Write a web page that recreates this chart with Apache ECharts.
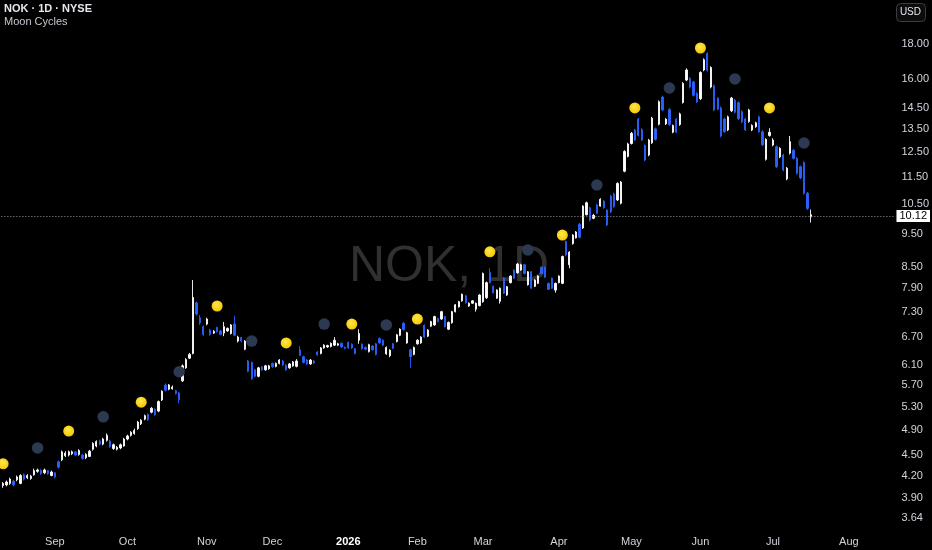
<!DOCTYPE html>
<html><head><meta charset="utf-8">
<script src="https://cdn.jsdelivr.net/npm/echarts@6/dist/echarts.min.js"></script>
<style>html,body{margin:0;padding:0;background:#000;}#c{width:932px;height:550px;}</style>
</head><body><div id="c"></div>
<script>
// ---- data ----
const startDate = '2025-08-11';
const holidays = ['2025-09-01','2025-11-27','2025-12-25','2026-01-01','2026-01-19','2026-02-16','2026-04-03','2026-05-25','2026-06-19','2026-07-03'];
const slotCount = 259;
const monthNames = ['Jan','Feb','Mar','Apr','May','Jun','Jul','Aug','Sep','Oct','Nov','Dec'];

const opens = [4.06,4.07,4.09,4.12,4.14,4.09,4.21,4.17,4.16,4.21,4.26,4.27,4.24,4.27,4.20,4.24,4.40,4.43,4.49,4.50,
4.52,4.55,4.51,4.50,4.46,4.48,4.59,4.64,4.72,4.67,4.73,4.72,4.60,4.59,4.61,4.64,4.75,4.81,4.84,4.92,
5.00,5.08,5.16,5.20,5.25,5.22,5.42,5.70,5.62,5.63,5.59,5.55,5.78,6.04,6.24,6.34,7.52,7.15,6.94,7.00,
6.86,6.79,6.92,6.84,6.79,6.84,6.78,7.00,6.61,6.69,6.43,6.18,6.15,6.00,5.87,6.06,6.00,6.02,6.13,6.07,
6.13,6.18,6.09,6.04,6.08,6.07,6.42,6.27,6.20,6.12,6.18,6.37,6.34,6.46,6.48,6.49,6.52,6.52,6.56,6.47,
6.58,6.54,6.44,6.63,6.54,6.47,6.38,6.50,6.55,6.67,6.63,6.33,6.29,6.55,6.60,6.74,7.02,6.57,6.42,6.32,
6.55,6.57,6.97,6.72,6.95,6.98,7.13,7.12,7.18,6.88,7.03,7.30,7.42,7.57,7.70,7.44,7.51,7.36,7.45,7.55,
7.65,8.33,7.95,7.64,7.56,8.17,7.72,8.05,8.40,8.32,8.40,8.55,7.99,8.35,7.95,8.03,8.48,8.48,8.03,8.17,
7.85,8.05,8.03,9.25,8.55,9.18,9.36,9.80,9.68,10.12,10.36,10.00,10.46,10.42,10.60,10.28,10.78,10.85,10.64,10.52,
11.72,12.32,12.87,13.47,13.97,13.49,12.78,12.38,12.90,13.52,13.73,15.05,13.75,14.43,13.37,13.97,13.72,14.78,15.94,16.03,
15.84,15.23,14.97,16.49,17.43,15.57,15.64,14.99,14.51,13.98,13.47,14.37,14.90,14.77,14.33,13.98,13.86,13.47,13.62,14.08,
13.39,12.20,13.22,12.80,12.73,12.30,12.38,11.42,12.46,12.58,12.24,11.90,12.07,10.88,10.05];
const closes = [4.09,4.11,4.15,4.07,4.18,4.20,4.15,4.20,4.19,4.27,4.28,4.23,4.28,4.23,4.25,4.18,4.32,4.55,4.53,4.55,
4.55,4.50,4.57,4.45,4.51,4.56,4.68,4.71,4.67,4.75,4.81,4.63,4.66,4.62,4.66,4.75,4.80,4.86,4.89,5.03,
5.06,5.14,5.07,5.27,5.16,5.39,5.58,5.60,5.70,5.66,5.54,5.42,6.08,6.21,6.32,7.66,7.24,7.03,6.76,7.12,
6.76,6.83,6.82,6.76,6.94,6.90,6.98,6.74,6.70,6.61,6.61,5.97,5.82,5.87,6.04,6.00,6.08,6.08,6.06,6.13,
6.20,6.10,6.00,6.12,6.16,6.18,6.30,6.15,6.12,6.20,6.14,6.31,6.46,6.52,6.51,6.56,6.63,6.55,6.48,6.45,
6.46,6.46,6.34,6.78,6.44,6.43,6.53,6.42,6.32,6.57,6.52,6.47,6.41,6.45,6.75,6.88,6.87,6.80,6.27,6.47,
6.63,6.70,6.70,6.86,7.06,7.18,7.06,7.30,6.94,7.04,7.30,7.47,7.55,7.74,7.52,7.51,7.57,7.51,7.72,8.30,
8.05,8.05,7.78,7.85,7.90,7.77,7.94,8.23,8.17,8.57,8.55,8.30,8.35,7.90,8.12,8.23,8.30,8.20,7.87,7.90,
8.03,8.23,8.79,8.84,8.92,9.45,9.55,9.38,10.42,10.54,9.94,10.10,10.17,10.66,10.36,9.78,10.22,10.40,11.25,11.30,
12.53,12.85,13.32,13.02,13.22,13.02,12.17,13.02,14.02,13.05,14.82,14.41,13.97,13.72,13.67,13.37,14.22,15.76,16.49,15.57,
15.14,14.81,16.35,17.07,16.47,16.63,14.41,14.45,13.20,13.39,14.08,15.00,14.30,13.99,13.84,13.47,14.41,13.68,13.80,13.39,
12.81,13.05,13.37,13.02,11.90,12.66,11.77,11.84,12.95,12.24,11.64,11.46,10.88,10.34,10.12];
const highs = [4.11,4.13,4.17,4.14,4.20,4.22,4.23,4.22,4.21,4.30,4.30,4.29,4.30,4.28,4.27,4.25,4.42,4.57,4.56,4.57,
4.57,4.56,4.59,4.52,4.53,4.58,4.70,4.73,4.74,4.77,4.84,4.74,4.68,4.64,4.68,4.77,4.82,4.88,4.92,5.05,
5.08,5.16,5.18,5.29,5.27,5.41,5.60,5.73,5.72,5.69,5.61,5.57,6.11,6.24,6.35,8.12,7.55,7.22,6.97,7.15,
6.89,6.86,6.94,6.86,7.05,6.92,7.00,7.20,6.73,6.71,6.63,6.20,6.17,6.02,6.06,6.08,6.10,6.10,6.15,6.15,
6.22,6.20,6.11,6.14,6.18,6.22,6.50,6.29,6.22,6.22,6.20,6.39,6.48,6.54,6.53,6.58,6.70,6.57,6.58,6.49,
6.60,6.56,6.46,6.88,6.56,6.49,6.55,6.52,6.57,6.69,6.65,6.49,6.43,6.57,6.77,6.90,7.05,6.82,6.44,6.49,
6.65,6.72,6.99,6.88,7.08,7.20,7.15,7.32,7.20,7.06,7.32,7.49,7.57,7.76,7.72,7.53,7.59,7.53,7.74,8.33,
8.08,8.45,7.97,7.87,7.92,8.20,7.96,8.25,8.42,8.60,8.58,8.57,8.37,8.37,8.14,8.25,8.50,8.50,8.05,8.19,
8.05,8.25,8.82,9.28,8.95,9.48,9.58,9.85,10.45,10.58,10.40,10.15,10.50,10.70,10.63,10.31,10.82,10.90,11.29,11.34,
12.58,12.90,13.38,13.52,14.03,13.55,12.83,13.07,14.08,13.58,14.88,15.12,14.02,14.50,13.72,14.03,14.28,15.83,16.58,16.10,
15.90,15.30,16.42,17.15,17.50,16.70,15.70,15.05,14.58,14.04,14.14,15.06,14.96,14.83,14.39,14.04,14.47,13.73,13.85,14.14,
13.45,13.10,13.55,13.10,12.78,12.71,12.43,11.89,13.20,12.63,12.29,11.95,12.12,10.93,10.30];
const lows = [4.03,4.05,4.07,4.05,4.12,4.08,4.13,4.15,4.14,4.20,4.24,4.21,4.22,4.21,4.19,4.16,4.30,4.41,4.47,4.48,
4.50,4.48,4.49,4.43,4.44,4.47,4.57,4.62,4.65,4.65,4.71,4.61,4.58,4.57,4.59,4.63,4.73,4.79,4.82,4.90,
4.98,5.06,5.05,5.18,5.13,5.20,5.40,5.58,5.60,5.61,5.52,5.36,5.76,6.02,6.22,6.32,7.20,6.98,6.73,6.97,
6.73,6.77,6.80,6.74,6.72,6.82,6.76,6.72,6.58,6.58,6.41,5.95,5.80,5.85,5.85,5.98,5.98,6.00,6.04,6.05,
6.11,6.08,5.98,6.02,6.06,6.05,6.28,6.13,6.10,6.10,6.12,6.29,6.32,6.44,6.46,6.47,6.50,6.50,6.46,6.43,
6.44,6.44,6.32,6.55,6.42,6.41,6.36,6.40,6.30,6.55,6.50,6.31,6.26,6.43,6.58,6.72,6.85,6.55,6.04,6.30,
6.53,6.55,6.68,6.70,6.93,6.96,7.04,7.10,6.92,6.86,7.01,7.28,7.40,7.55,7.50,7.42,7.49,7.30,7.43,7.52,
7.62,8.03,7.76,7.62,7.50,7.75,7.70,8.03,8.15,8.30,8.38,8.28,7.97,7.88,7.93,8.01,8.28,8.18,7.85,7.88,
7.78,8.03,8.01,8.80,8.45,9.15,9.34,9.35,9.65,10.10,9.90,9.97,10.14,10.40,10.33,9.74,10.18,10.36,10.60,10.48,
11.68,12.28,12.83,12.98,13.18,12.98,12.12,12.33,12.85,13.00,13.68,14.35,13.70,13.66,13.32,13.32,13.66,14.72,15.88,15.50,
15.08,14.75,14.90,16.42,16.40,15.50,14.35,14.40,13.14,13.34,13.42,14.31,14.24,13.93,13.78,13.42,13.80,13.42,13.57,13.34,
12.76,12.15,13.17,12.75,11.85,12.25,11.72,11.37,12.40,12.19,11.59,11.41,10.83,10.28,9.86];

const fullMoons = [[0,4.37],[19,4.88],[40,5.38],[62,7.44],[82,6.57],[101,7.00],[120,7.12],[141,8.93],[162,9.45],[183,14.51],[202,17.76],[222,14.51]];
const newMoons = [[10,4.61],[29,5.12],[51,5.96],[72,6.61],[93,7.00],[111,6.98],[152,8.99],[172,11.19],[193,15.52],[212,16.00],[232,12.89]];

const priceTicks = [3.64,3.90,4.20,4.50,4.90,5.30,5.70,6.10,6.70,7.30,7.90,8.50,9.50,10.50,11.50,12.50,13.50,14.50,16.00,18.00];
const lastPrice = 10.12;
const viewTop = 20.88, viewBottom = 3.4955;

// ---- build ----
const dates = [];
(function(){
  let d = new Date(startDate + 'T00:00:00Z');
  while (dates.length < slotCount) {
    const wd = d.getUTCDay();
    const s = d.toISOString().slice(0,10);
    if (wd !== 0 && wd !== 6 && holidays.indexOf(s) < 0) dates.push(s);
    d = new Date(d.getTime() + 86400000);
  }
})();
const monthOf = s => +s.slice(5,7);
const candles = opens.map((o,i)=>[Math.log(o),Math.log(closes[i]),Math.log(lows[i]),Math.log(highs[i])]);
const FONT = '"Liberation Sans", Arial, sans-serif';

const chart = echarts.init(document.getElementById('c'), null, {renderer:'canvas'});
chart.setOption({
  backgroundColor:'#000000',
  animation:false,
  grid:{left:1.4,right:35,top:0,bottom:20},
  xAxis:{
    type:'category', data:dates, boundaryGap:true,
    axisLine:{show:false}, axisTick:{show:false}, splitLine:{show:false},
    axisLabel:{
      interval:(i)=> i>0 && monthOf(dates[i]) !== monthOf(dates[i-1]),
      formatter:(v)=>{ const m = monthOf(v); return m===1 ? '{b|'+v.slice(0,4)+'}' : monthNames[m-1]; },
      color:'#d1d4dc', fontSize:11, fontFamily:FONT, margin:6,
      rich:{b:{fontWeight:'bold',color:'#ffffff',fontSize:11,fontFamily:FONT}}
    }
  },
  yAxis:{
    type:'value', position:'right', min:Math.log(viewBottom), max:Math.log(viewTop),
    axisLine:{show:false}, axisTick:{show:false}, splitLine:{show:false},
    axisLabel:{customValues:priceTicks.map(Math.log), formatter:(v)=>Math.exp(v).toFixed(2),
      color:'#d1d4dc', fontSize:11, fontFamily:FONT, margin:6}
  },
  graphic:[
    {type:'text', left:4, top:3, style:{text:'NOK · 1D · NYSE', fill:'#e6e8ee', font:'bold 11px '+FONT}},
    {type:'text', left:4, top:16, style:{text:'Moon Cycles', fill:'#c4c7ce', font:'11px '+FONT}},
    {type:'rect', right:6, top:3, shape:{width:29,height:18,r:4}, style:{fill:'#0c0c0c',stroke:'#3a3d46',lineWidth:1}},
    {type:'text', right:11, top:7, style:{text:'USD', fill:'#e6e8ee', font:'10px '+FONT}},
    {type:'text', x:449, y:267, z:-1, style:{text:'NOK, 1D', fill:'#303030', font:'50px '+FONT, textAlign:'center', textVerticalAlign:'middle'}}
  ],
  series:[
    {type:'candlestick', data:candles, barWidth:1.8,
     itemStyle:{color:'#ffffff',color0:'#2962ff',borderColor:'#ffffff',borderColor0:'#2962ff',borderWidth:0.9},
     markLine:{silent:true, symbol:'none',
       lineStyle:{type:[1,2], color:'#9a9a9a', width:1},
       label:{position:'end', distance:1, formatter:lastPrice.toFixed(2), backgroundColor:'#ffffff', color:'#000000',
              fontSize:11, fontFamily:FONT, padding:[1,3,0,3]},
       data:[{yAxis:Math.log(lastPrice)}]}
    },
    {type:'scatter', data:newMoons.map(p=>[p[0],Math.log(p[1])]), symbolSize:11.5, z:3,
     itemStyle:{color:'#2c3950', opacity:1}},
    {type:'scatter', data:fullMoons.map(p=>[p[0],Math.log(p[1])]), symbolSize:11, z:3,
     itemStyle:{color:{type:'radial',x:0.45,y:0.4,r:0.6,colorStops:[{offset:0,color:'#ffe94d'},{offset:1,color:'#f5c800'}]}, opacity:1}}
  ]
});
</script></body></html>
